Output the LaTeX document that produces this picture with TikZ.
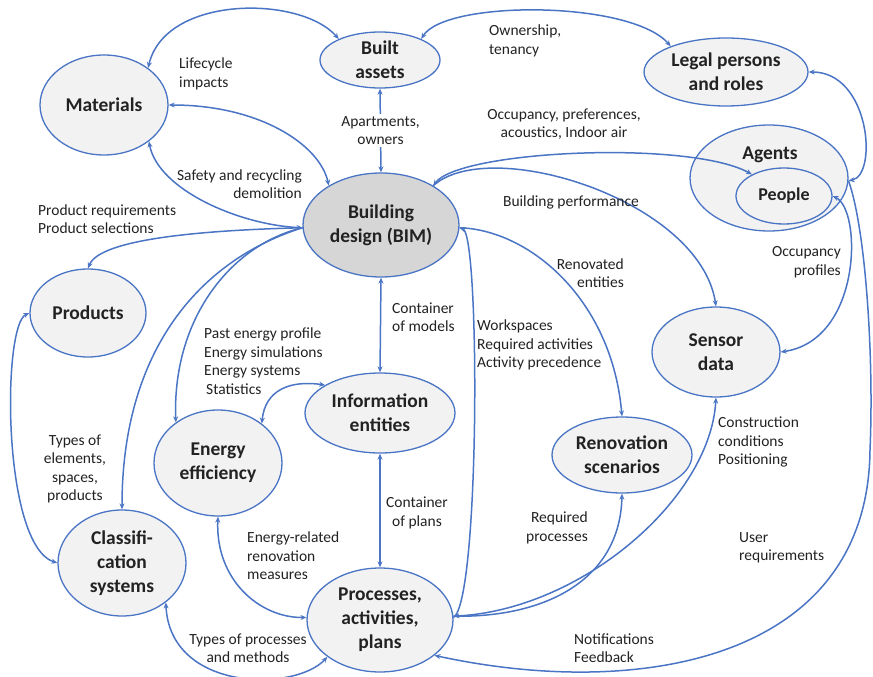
\documentclass[tikz,border=0pt]{standalone}
\usepackage{fontspec}
\setmainfont{Carlito}
\usetikzlibrary{shapes.geometric,arrows.meta}
\definecolor{lnblue}{HTML}{4A74C4}
\definecolor{nfill}{HTML}{F2F2F2}
\definecolor{bimfill}{HTML}{D6D6D6}
\definecolor{txt}{HTML}{222222}
\begin{document}
\begin{tikzpicture}[x=1pt,y=-1pt,
  ell/.style={ellipse, draw=lnblue, line width=1.3pt, fill=nfill, inner sep=0pt, text=txt,
    font=\fontsize{19.5}{24}\selectfont\bfseries, align=center},
  lab/.style={font=\fontsize{15.5}{18.5}\selectfont, inner sep=0pt, text=txt},
  tip/.tip={Stealth[length=6pt,width=5pt]},
  con/.style={draw=lnblue, line width=1.5pt, tip-tip},
  conE/.style={draw=lnblue, line width=1.5pt, -tip},
  conS/.style={draw=lnblue, line width=1.5pt, tip-},
  conN/.style={draw=lnblue, line width=1.5pt},
]
\useasboundingbox (0,0) rectangle (873,677);

% nodes
\node[ell, minimum width=120pt, minimum height=56pt] (built) at (380,60) {Built\\assets};
\node[ell, minimum width=128pt, minimum height=100pt] (mat) at (104,105) {Materials};
\node[ell, minimum width=164pt, minimum height=68pt] (legal) at (726,72) {Legal persons\\and roles};
\node[ell, minimum width=158pt, minimum height=106pt] (agents) at (769,178) {};
\node[font=\fontsize{19.5}{24}\selectfont\bfseries, text=txt, inner sep=0pt] (agentsT) at (770,155) {Agents};
\node[ell, minimum width=96pt, minimum height=56pt, font=\fontsize{18}{22}\selectfont\bfseries] (people) at (784,196) {People};
\node[ell, fill=bimfill, minimum width=156pt, minimum height=104pt] (bim) at (381,225) {Building\\design (BIM)};
\node[ell, minimum width=116pt, minimum height=88pt] (prod) at (88,313) {Products};
\node[ell, minimum width=150pt, minimum height=80pt] (info) at (380,413) {Information\\entities};
\node[ell, minimum width=128pt, minimum height=106pt] (energy) at (218,463) {Energy\\efficiency};
\node[ell, minimum width=128pt, minimum height=106pt] (class) at (122,563) {Classifi-\\cation\\systems};
\node[ell, minimum width=146pt, minimum height=104pt] (proc) at (380,620) {Processes,\\activities,\\plans};
\node[ell, minimum width=140pt, minimum height=76pt] (reno) at (622,455) {Renovation\\scenarios};
\node[ell, minimum width=128pt, minimum height=90pt] (sensor) at (716,352) {Sensor\\data};
\coordinate (rside) at (870,450);

% connectors
\draw[con] (mat.40) .. controls (165,-5) and (300,-5) .. (built.153);
\draw[con] (built.27) .. controls (445,0) and (630,0) .. (legal.155);
\draw[con] (built.south) -- node[lab, fill=white, align=center, inner sep=2pt] (lApt) {Apartments,\\owners} (bim.north);
\draw[con] (mat.0) .. controls (260,105) and (320,145) .. (bim.143);
\draw[con] (mat.-39) .. controls (158,190) and (240,225) .. (bim.182);
\draw[conE] (bim.182) .. controls (210,230) and (100,238) .. (prod.90);
\draw[conE] (bim.182) .. controls (230,245) and (172,320) .. (energy.136);
\draw[conE] (bim.182) .. controls (200,260) and (122,350) .. (class.90);
\draw[con] (prod.180) .. controls (2,325) and (2,545) .. (class.180);
\draw[con] (bim.south) -- (info.north);
\draw[con] (info.153) .. controls (290,380) and (265,390) .. (energy.42);
\draw[con] (info.south) -- (proc.north);
\draw[con] (energy.270) .. controls (215,580) and (260,618) .. (proc.178);
\draw[con] (class.-42) .. controls (170,692) and (295,692) .. (proc.215);
\draw[conE] (proc.2) .. controls (480,600) and (480,235) .. (bim.-2);
\draw[conE] (bim.-2) .. controls (530,230) and (612,300) .. (reno.north);
\draw[con] (bim.37) .. controls (460,150) and (690,140) .. (people.146);
\draw[conE] (bim.37) .. controls (490,135) and (700,200) .. (sensor.north);
\draw[con] (people.0) .. controls (862,210) and (862,340) .. (sensor.0);
\draw[con] (legal.0) .. controls (870,72) and (878,175) .. (agents.-2);
\draw[conE] (agents.-2) .. controls (866,230) and (874,360) .. (rside) .. controls (868,660) and (640,700) .. (proc.-33);
\draw[con] (sensor.south) .. controls (710,500) and (580,610) .. (proc.3);
\draw[conS] (reno.south) .. controls (620,580) and (545,618) .. (proc.3);

% labels
\node[lab, anchor=west, align=left] (lLife) at (179,74) {Lifecycle\\impacts};
\node[lab, anchor=west, align=left] (lOwn) at (489,41) {Ownership,\\tenancy};
\node[lab, anchor=east, align=right] (lSafe) at (302,184) {Safety and recycling\\demolition};
\node[lab, anchor=west, align=left] (lProd) at (38,219) {Product requirements\\Product selections};
\node[lab, anchor=west, align=left] (lPast) at (204,361) {Past energy profile\\Energy simulations\\Energy systems\\\hspace{2pt}Statistics};
\node[lab, anchor=west, align=left] (lCont) at (392,317) {Container\\of models};
\node[lab, anchor=west, align=left] (lWork) at (477,345) {Workspaces\\Required activities\\Activity precedence};
\node[lab, anchor=east, align=right] (lRen) at (624,273) {Renovated\\entities};
\node[lab, align=center] (lOcc) at (564,124) {Occupancy, preferences,\\acoustics, Indoor air};
\node[lab] (lPerf) at (571,202) {Building performance};
\node[lab, anchor=east, align=right] (lOccP) at (841,262) {Occupancy\\profiles};
\node[lab, align=center] (lTypes) at (75,469) {Types of\\elements,\\spaces,\\products};
\node[lab, anchor=west, align=left] (lEnR) at (247,556) {Energy-related\\renovation\\measures};
\node[lab, align=center] (lContP) at (417,513) {Container\\of plans};
\node[lab, anchor=east, align=right] (lReq) at (588,528) {Required\\processes};
\node[lab, anchor=west, align=left] (lCons) at (718,442) {Construction\\conditions\\Positioning};
\node[lab, anchor=west, align=left] (lUser) at (739,548) {User\\requirements};
\node[lab, anchor=west, align=left] (lNot) at (574,648) {Notifications\\Feedback};
\node[lab, align=center] (lTP) at (248,648) {Types of processes\\and methods};
\end{tikzpicture}
\end{document}
